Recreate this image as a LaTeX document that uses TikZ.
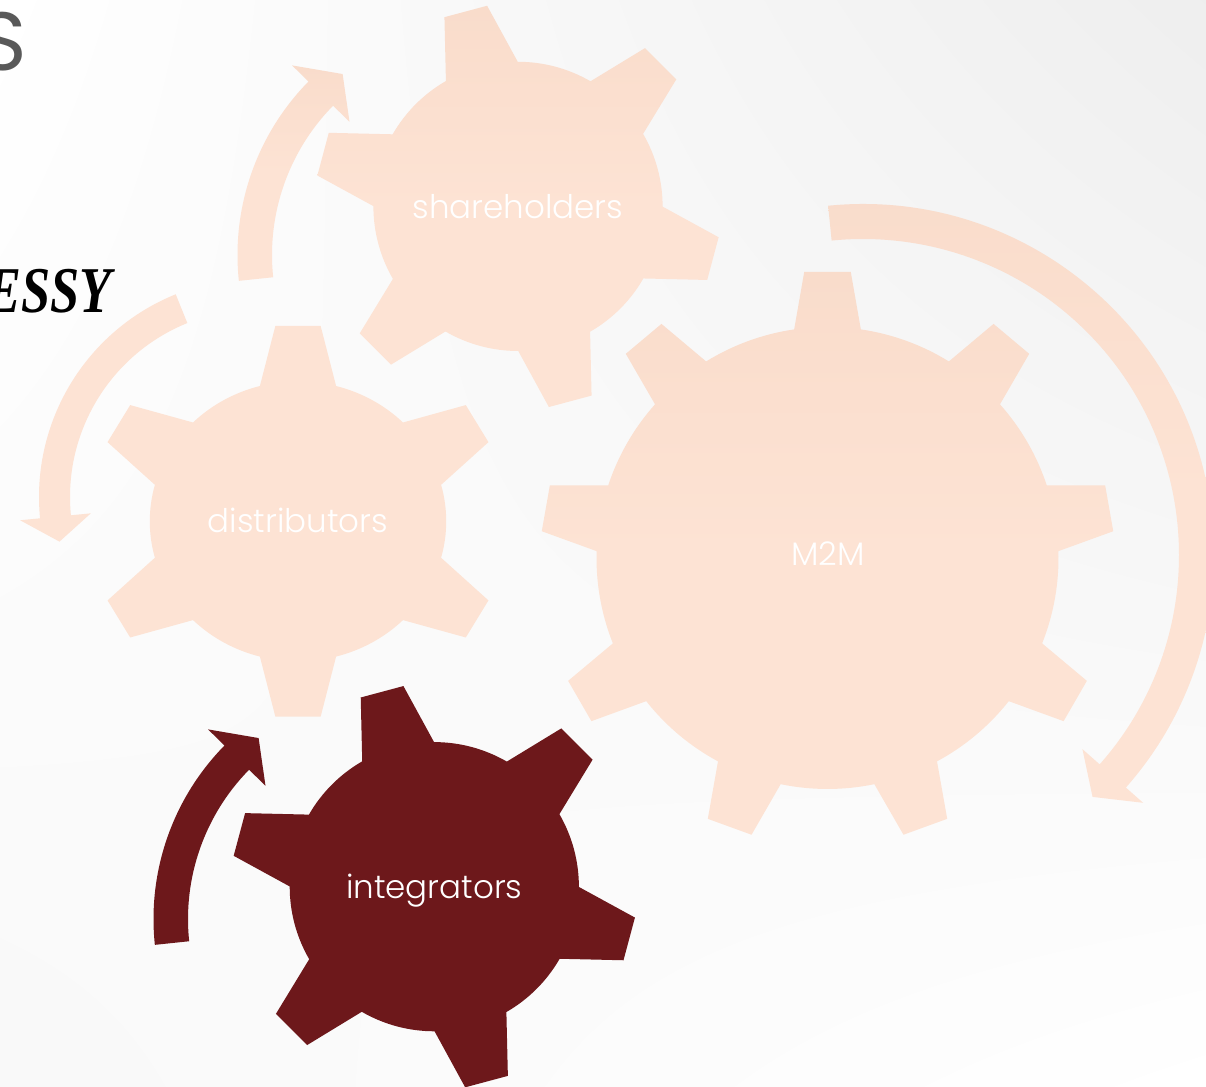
\documentclass[tikz,border=0pt]{standalone}
\usepackage{fontspec}
\IfFontExistsTF{Poppins Light}{\newfontfamily\gearfont{Poppins Light}}{\newfontfamily\gearfont{Poppins}}
\newfontfamily\titlefont{Poppins}
\newfontfamily\messyfont{Liberation Serif}
\usetikzlibrary{calc,positioning,shadings}

\definecolor{peach}{HTML}{FDE3D4}
\definecolor{peachtop}{HTML}{F9DCCB}
\definecolor{wine}{HTML}{6D181B}
\definecolor{titlegray}{HTML}{595959}

% gear: style, center, teeth, first tooth angle, body r, tip r, base half angle, tip half angle
\newcommand{\gear}[8]{%
  \pgfmathtruncatemacro\gearlast{#3-1}%
  \path[shift={(#2)},#1] (#4-#7:#5)
    \foreach \k [evaluate=\k as \a using #4+\k*360/#3] in {0,...,\gearlast}{
      -- (\a-#7:#5) -- (\a-#8:#6) -- (\a+#8:#6) -- (\a+#7:#5)
      arc[start angle=\a+#7, delta angle=360/#3-2*#7, radius=#5]
    } -- cycle;}

% circular arrow: style, center, inner r, outer r, tail angle, head angle, tip angle, wing spread
\newcommand{\turn}[8]{%
  \path[shift={(#2)},#1] (#5:#4) arc[start angle=#5, end angle=#6, radius=#4]
    -- (#6:#4+#8) -- (#7:#3/2+#4/2) -- (#6:#3-#8) -- (#6:#3)
    arc[start angle=#6, end angle=#5, radius=#3] -- cycle;}

\begin{document}
\begin{tikzpicture}[x=0.75pt,y=0.75pt,
    lightgear/.style={top color=peachtop,bottom color=peach,middle color=peach},
    darkgear/.style={fill=wine},
    gearlabel/.style={font=\gearfont\fontsize{24.4}{28}\selectfont,text=white,inner sep=0pt,anchor=base}]

\useasboundingbox (0,0) rectangle (1206,1087);
\clip (0,0) rectangle (1206,1087);
\shade[upper left=white,upper right=gray!13,lower left=gray!5,lower right=white] (0,0) rectangle (1206,1087);

% title fragments
\node[font=\titlefont\fontsize{62}{70}\selectfont,text=titlegray,inner sep=0pt,anchor=base east] (title) at (27,1016) {S};
\node[font=\messyfont\bfseries\itshape\fontsize{49}{56}\selectfont,inner sep=0pt,anchor=base east] (messy) at (112,774) {\scalebox{0.8}[1]{ESSY}};

% gear centres
\coordinate (sh) at (518,880.6);
\coordinate (di) at (298,565.7);
\coordinate (mm) at (827.5,529);
\coordinate (in) at (434.3,200.3);

% arrows
\turn{lightgear}{485,832}{213}{247.5}{186}{135.5}{128.2}{23}
\turn{fill=peach}{257.6,590}{187.6}{218.6}{112}{185.6}{192.7}{20}
\turn{lightgear}{863,532}{316}{351}{95.7}{-41.5}{-46.5}{23}
\turn{darkgear}{401,168}{213}{247.5}{186}{135.5}{128.2}{23}

% gears
\gear{lightgear}{sh}{6}{-15}{144.6}{203}{14.9}{6.25}
\gear{fill=peach,xscale=1.025,yscale=0.968}{di}{6}{30}{144.6}{203}{14.9}{6.25}
\gear{lightgear}{mm}{9}{90}{231}{287}{8.3}{4.65}
\gear{darkgear}{in}{6}{-15}{144.6}{203}{14.9}{6.25}

% labels
\node[gearlabel] (shareholders) at (518,868.7) {shareholders};
\node[gearlabel] (distributors) at (298,554.3) {distributors};
\node[gearlabel] (m2m) at (828,521.5) {M2M};
\node[gearlabel] (integrators) at (434.3,188.7) {integrators};

\end{tikzpicture}
\end{document}
